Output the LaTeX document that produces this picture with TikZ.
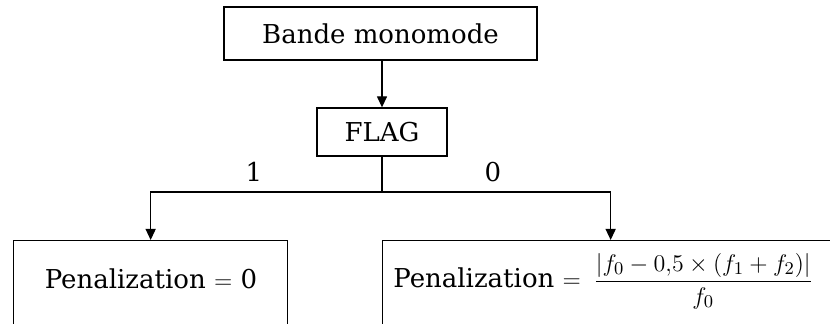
\documentclass[tikz,border=0pt]{standalone}
\usepackage{amsmath}
\usepackage{fontspec}
\setmainfont{DejaVu Serif}
\usetikzlibrary{arrows.meta}
\begin{document}
\begin{tikzpicture}[x=0.5pt,y=-0.5pt,
  box/.style={draw, line width=0.65pt, inner sep=0pt},
  lbl/.style={font=\fontsize{13}{15}\selectfont, inner sep=0pt},
  arr/.style={line width=0.65pt, -{Triangle[width=5pt,length=5.5pt]}},
  ln/.style={line width=0.65pt}]
\useasboundingbox (0,0) rectangle (830,324);
\clip (0,0) rectangle (830,324);
\node[box, minimum width=156.5pt, minimum height=26.5pt, lbl] (bande) at (380.5,33.5) {Bande monomode};
\node[box, minimum width=65pt, minimum height=24pt, lbl] (flag) at (382,132) {FLAG};
\node[box, anchor=north west, minimum width=137pt, minimum height=50pt] (L) at (13,240) {};
\node[box, anchor=north west, minimum width=228pt, minimum height=50pt] (R) at (382,240) {};
\coordinate (j) at (382,192);
\draw[arr] (flag.north |- bande.south) -- (flag.north);
\draw[ln] (flag.south) -- (j);
\draw[arr] (j) -| (L.north);
\draw[arr] (j) -| (R.north);
\node[lbl] (one) at (254,172) {1};
\node[lbl] (zero) at (493,172) {0};
\node[lbl] (ltext) at (151,279) {Penalization $=$ 0};
\node[lbl, anchor=west] (rtext) at (393,281) {Penalization $=$\, $\dfrac{|f_0-0{,}5\times(f_1+f_2)|}{f_0}$};
\end{tikzpicture}
\end{document}
